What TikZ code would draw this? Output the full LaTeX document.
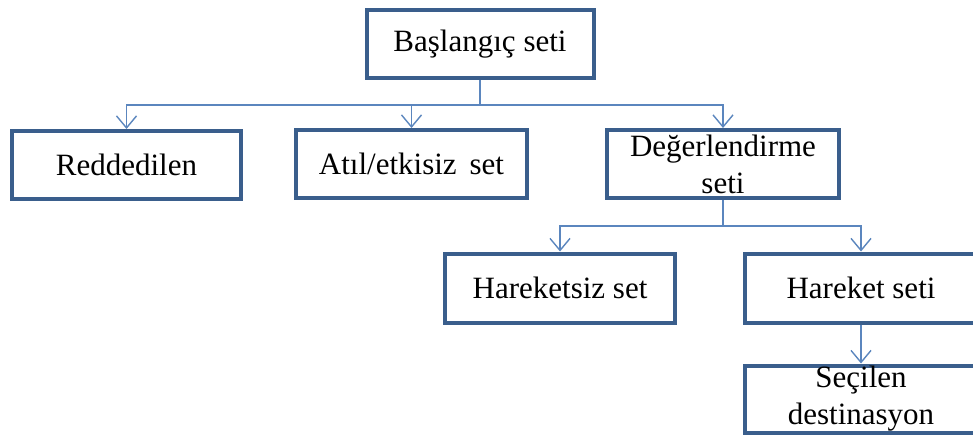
\documentclass[tikz,border=0pt]{standalone}
\usepackage{fontspec}
\setmainfont{Liberation Serif}
\usetikzlibrary{arrows.meta}
\definecolor{boxline}{HTML}{3A5E8C}
\definecolor{linkline}{HTML}{5B86BE}
\begin{document}
\begin{tikzpicture}[x=1pt,y=-1pt,
  setbox/.style={draw=boxline, line width=4pt, fill=white, rectangle,
    inner sep=0pt, minimum width=230pt, minimum height=68pt,
    font=\fontsize{31}{37}\selectfont, align=center},
  link/.style={draw=linkline, line width=1.4pt},
  flow/.style={link, -{Straight Barb[length=12pt,width=20pt,line width=1.4pt]}}]
  \clip (0,0) rectangle (973,436);
  \fill[white] (0,0) rectangle (973,436);

  % top level
  \node[setbox, minimum width=227pt] (start) at (480,44) {Başlangıç seti};

  % second level
  \node[setbox, minimum width=229pt] (rej)  at (126.5,165) {Reddedilen};
  \node[setbox, minimum width=231pt] (idle) at (411.5,164) {Atıl/etkisiz\, set};
  \node[setbox, minimum width=232pt] (eval) at (723,164) {Değerlendirme\\seti};

  % third level
  \node[setbox, minimum height=69pt] (still) at (560,288) {Hareketsiz set};
  \node[setbox, minimum width=232pt, minimum height=69pt] (move) at (861,288) {Hareket seti};
  \node[setbox, minimum width=232pt, minimum height=67pt] (chosen) at (861,399) {Seçilen\\destinasyon};

  % bus lines
  \coordinate (busA) at (0,105);
  \coordinate (busB) at (0,226);

  \draw[link] (start.south) -- (start.south |- busA);
  \draw[flow] (start.south |- busA) -| (rej.north);
  \draw[flow] (start.south |- busA) -| (idle.north);
  \draw[flow] (start.south |- busA) -| (eval.north);

  \draw[link] (eval.south) -- (eval.south |- busB);
  \draw[flow] (eval.south |- busB) -| (still.north);
  \draw[flow] (eval.south |- busB) -| (move.north);

  \draw[flow] (move.south) -- (chosen.north);
\end{tikzpicture}
\end{document}
